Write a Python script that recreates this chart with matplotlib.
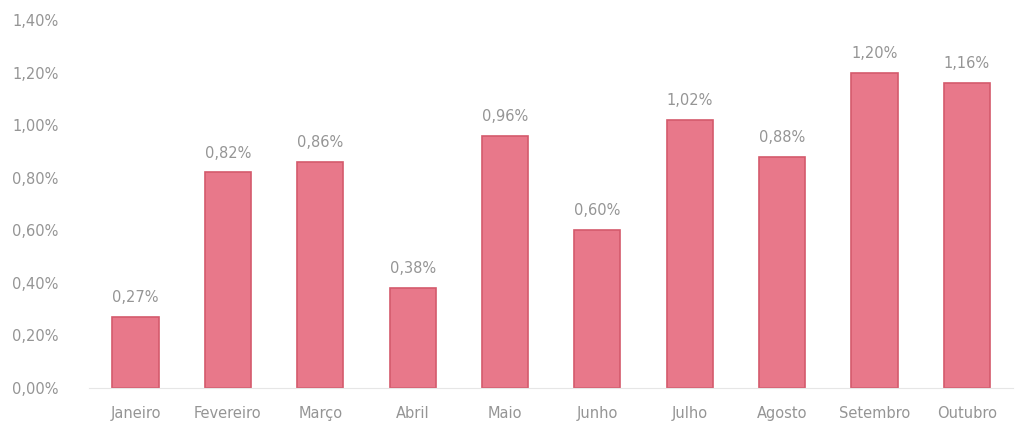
import matplotlib.pyplot as plt
import numpy as np

months = ['Janeiro', 'Fevereiro', 'Março', 'Abril', 'Maio', 'Junho',
          'Julho', 'Agosto', 'Setembro', 'Outubro']
values = [0.27, 0.82, 0.86, 0.38, 0.96, 0.60, 1.02, 0.88, 1.20, 1.16]
yticks = [0.0, 0.2, 0.4, 0.6, 0.8, 1.0, 1.2, 1.4]

grey = '#959595'

fig = plt.figure(figsize=(10.15, 4.25), dpi=100)
ax = fig.add_axes([0.088, 0.087, 0.91, 0.866])

x = np.arange(len(months))
bars = ax.bar(x, values, width=0.5, color='#e8788a', edgecolor='#d45a6c', linewidth=1.2)

for xi, v in zip(x, values):
    ax.text(xi, v + 0.045, f'{v:.2f}%'.replace('.', ','), ha='center', va='bottom',
            fontsize=10.5, color=grey)

ax.set_xlim(-0.5, len(months) - 0.5)
ax.set_ylim(0, 1.4)
ax.set_yticks(yticks)
ax.set_yticklabels([f'{t:.2f}%'.replace('.', ',') for t in yticks])
ax.set_xticks(x)
ax.set_xticklabels(months)
ax.tick_params(length=0, labelsize=10.5, colors=grey)
ax.tick_params(axis='x', pad=13)
ax.tick_params(axis='y', pad=22)

for s in ['top', 'right', 'left']:
    ax.spines[s].set_visible(False)
ax.spines['bottom'].set_color('#e6e6e6')

fig.savefig('out.png', dpi=100, facecolor='white')
